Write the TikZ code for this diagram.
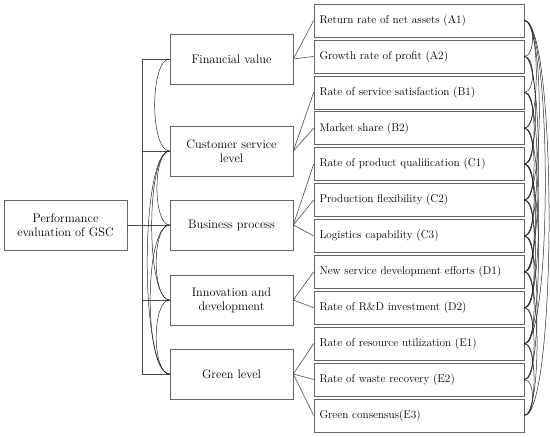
\documentclass[tikz,border=0pt]{standalone}
\usetikzlibrary{positioning}
\begin{document}
\begin{tikzpicture}[x=1pt,y=-1pt,
  riquadro/.style={draw=black!60,line width=0.6pt,minimum width=123pt,
    minimum height=50pt,align=center,font=\fontsize{12.3}{14}\selectfont,inner sep=2pt},
  indicatore/.style={draw=black!60,line width=0.6pt,minimum width=210pt,
    minimum height=33pt,text width=199pt,align=left,
    font=\fontsize{11.3}{13}\selectfont,inner xsep=5pt},
  legame/.style={black!70,line width=0.6pt},
  arco/.style={black!85,line width=0.5pt}]
  \useasboundingbox (0,0) rectangle (550,437);
  % Obiettivo e cinque dimensioni.
  \node[riquadro] (gsc) at (65.5,225) {Performance\\evaluation of GSC};
  \node[riquadro] (fv) at (231.5,59) {Financial value};
  \node[riquadro] (cs) at (231.5,151) {Customer service\\level};
  \node[riquadro] (bp) at (231.5,225) {Business process};
  \node[riquadro] (id) at (231.5,300) {Innovation and\\development};
  \node[riquadro] (gl) at (231.5,374) {Green level};
  % Dodici indicatori, uno sotto l'altro.
  \foreach \i/\nome/\testo in {0/a1/Return rate of net assets (A1),
      1/a2/Growth rate of profit (A2),2/b1/Rate of service satisfaction (B1),
      3/b2/Market share (B2),4/c1/Rate of product qualification (C1),
      5/c2/Production flexibility (C2),6/c3/Logistics capability (C3),
      7/d1/New service development efforts (D1),8/d2/Rate of R\&D investment (D2),
      9/e1/Rate of resource utilization (E1),10/e2/Rate of waste recovery (E2),
      11/e3/Green consensus(E3)}{
    \node[indicatore] (\nome) at (419,{20.5+35.9*\i}) {\testo};
  }
  % Parentesi a sinistra delle dimensioni.
  \coordinate (dorso) at (142,0);
  \draw[legame] (fv.west) -- (fv.west -| dorso) |- (gl.west);
  \foreach \m in {cs,id}{
    \draw[legame] (\m.west) -- (\m.west -| dorso);
  }
  \draw[legame] (gsc.east) -- (bp.west);
  \foreach \m/\r in {fv/a1,fv/a2,cs/b1,cs/b2,bp/c1,bp/c2,bp/c3,
      id/d1,id/d2,gl/e1,gl/e2,gl/e3}{
    \draw[legame] (\m.east) -- (\r.west);
  }
  % Relazioni tra dimensioni.
  \foreach \p/\q/\d in {fv/cs/20,cs/bp/17,cs/id/24,cs/gl/30,bp/id/18,
      bp/gl/26,id/gl/18}{
    \draw[arco] (\p.west) .. controls +(-\d,0) and +(-\d,0) .. (\q.west);
  }
  % Relazioni tra indicatori.
  \foreach \p/\q/\d in {a1/a2/11,a1/b2/16,a1/c2/20,a1/e1/28,a1/e3/33,
      a2/b1/11,a2/c1/15,a2/d1/19,b1/b2/11,b1/c1/13,b1/c3/17,
      b2/c1/11,b2/c2/13,b2/d2/19,c1/c2/11,c1/c3/13,c1/d1/15,c1/e1/19,
      c2/c3/11,c2/d1/13,c2/d2/15,c3/d1/11,c3/d2/13,c3/e2/17,
      d1/d2/11,d1/e1/13,d1/e3/17,d2/e1/11,d2/e2/13,
      e1/e2/11,e1/e3/13,e2/e3/11}{
    \draw[arco] (\p.east) .. controls +(\d,0) and +(\d,0) .. (\q.east);
  }
\end{tikzpicture}
\end{document}
